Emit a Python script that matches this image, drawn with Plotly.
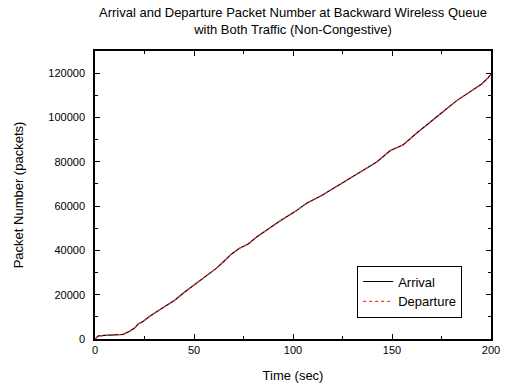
import plotly.graph_objects as go

time_sec = [0, 1.7, 5, 10, 14.3, 17.7, 20, 21.9, 24.4, 28, 32.8, 36, 40.4, 45, 49.6, 55.6, 61.4, 65,
            69, 73, 77.4, 81.6, 86.7, 93.4, 101, 106.9, 114.5, 121.2, 131.3, 142.3, 149, 155.7,
            162.5, 170, 175.9, 182.7, 189.4, 195.3, 198.6, 200]
arrival = [0, 1400, 1600, 1800, 2100, 3600, 5000, 6800, 8000, 10500, 13400, 15000, 17600, 21000,
           24000, 28200, 32000, 35000, 38400, 41000, 42900, 46000, 49300, 53300, 57500, 61300,
           64800, 68400, 74100, 79900, 85000, 87700, 93000, 98200, 102700, 107600, 111800,
           115100, 118000, 119500]
departure = [0, 1400, 1600, 1800, 2100, 3600, 5000, 6800, 8000, 10500, 13400, 15000, 17600, 21000,
             24000, 28200, 32000, 35000, 38400, 41000, 42900, 46000, 49300, 53300, 57500, 61300,
             64800, 68400, 74100, 79900, 85000, 87700, 93000, 98200, 102700, 107600, 111800,
             115100, 118000, 119500]

FONT = "Liberation Sans, Arial, sans-serif"

fig = go.Figure()
fig.add_trace(go.Scatter(x=time_sec, y=arrival, mode="lines", name="Arrival",
                         line=dict(color="black", width=1.2)))
fig.add_trace(go.Scatter(x=time_sec, y=departure, mode="lines", name="Departure",
                         line=dict(color="#ff3333", width=1.2, dash="dot")))

axis_common = dict(showgrid=False, zeroline=False, showline=True, linecolor="black", linewidth=1.5,
                   mirror="allticks", ticks="inside", ticklen=5, tickcolor="black", automargin=False,
                   tickfont=dict(family=FONT, size=11, color="black"))

fig.add_annotation(text="Arrival and Departure Packet Number at Backward Wireless Queue<br>with Both Traffic (Non-Congestive)",
                   xref="paper", yref="paper", x=0.5, y=1 + 12 / 288, xanchor="center", yanchor="bottom",
                   showarrow=False, font=dict(family=FONT, size=13, color="black"))

fig.update_layout(
    width=511, height=385,
    margin=dict(l=95, r=20, t=51, b=46),
    paper_bgcolor="white", plot_bgcolor="white",
    font=dict(family=FONT, color="black"),
    xaxis=dict(range=[0, 200], tickvals=[0, 50, 100, 150, 200],
               minor=dict(dtick=25, ticks="inside", ticklen=3, tickcolor="black"),
               title=dict(text="Time (sec)", font=dict(family=FONT, size=13), standoff=16),
               **axis_common),
    yaxis=dict(range=[0, 130000], tickvals=[0, 20000, 40000, 60000, 80000, 100000, 120000],
               tickformat="d", ticklabelstandoff=6,
               minor=dict(dtick=10000, ticks="inside", ticklen=3, tickcolor="black"),
               title=dict(text="Packet Number (packets)", font=dict(family=FONT, size=13), standoff=22),
               **axis_common),
    showlegend=True,
    legend=dict(x=0.662, y=0.255, xanchor="left", yanchor="top",
                bordercolor="black", borderwidth=1, bgcolor="white",
                font=dict(family=FONT, size=13, color="black"),
                tracegroupgap=0, itemwidth=30),
)

fig.write_html("out.html")
